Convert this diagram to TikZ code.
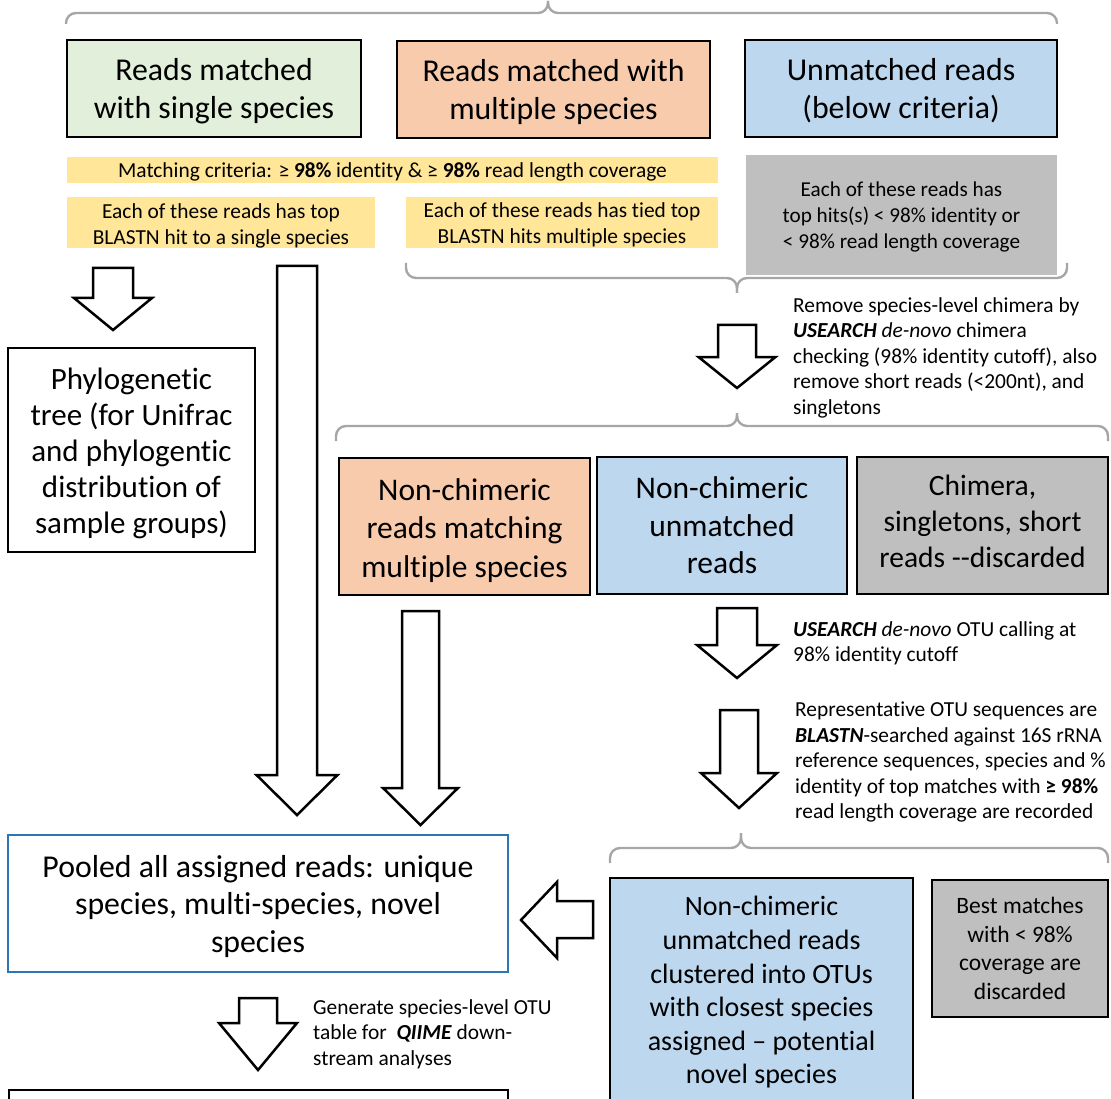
\documentclass[tikz,border=0pt]{standalone}
\usepackage{fontspec}
\setmainfont{Carlito}[Ligatures={TeX,NoCommon}]
\definecolor{cgreen}{HTML}{E2EFDA}
\definecolor{corange}{HTML}{F8CBAD}
\definecolor{cblue}{HTML}{BDD7EE}
\definecolor{cyellow}{HTML}{FFE699}
\definecolor{cgray}{HTML}{BFBFBF}
\definecolor{cbrace}{HTML}{A6A6A6}
\definecolor{cpool}{HTML}{2E75B6}
\newcommand\fl{\rule{0pt}{17pt}}
\newcommand\bi[1]{\textbf{\textit{#1}}}
\newcommand\blkdown[6]{\draw[blk] (#1-#2,#3) -- (#1+#2,#3) -- (#1+#2,#4) -- (#1+#5,#4) -- (#1,#6) -- (#1-#5,#4) -- (#1-#2,#4) -- cycle;}
\begin{document}
\begin{tikzpicture}[x=1pt,y=-1pt,
  box/.style={draw=black,line width=2.2pt,inner sep=0pt},
  area/.style={inner sep=0pt},
  big/.style={align=center,inner sep=0pt,font=\fontsize{31.8}{38}\selectfont},
  band/.style={align=center,inner sep=0pt,font=\fontsize{21.4}{25.5}\selectfont},
  smalltxt/.style={align=left,inner sep=0pt,anchor=north west,font=\fontsize{21.4}{25.5}\selectfont},
  brace/.style={draw=cbrace,line width=2.4pt,rounded corners=10pt},
  blk/.style={draw=black,fill=white,line width=2.5pt,line join=miter}]
\useasboundingbox (0,0) rectangle (1111,1099);
\clip (0,0) rectangle (1111,1099);

% braces
\draw[brace] (66,24) |- (548,13) -- (548,1);
\draw[brace] (1057,24) |- (548,13) -- (548,1);
\draw[brace] (406,263) |- (737,278) -- (737,293);
\draw[brace] (1067,263) |- (737,278) -- (737,293);
\draw[brace] (336,441) |- (737,426) -- (737,413);
\draw[brace] (1108,441) |- (737,426) -- (737,413);
\draw[brace] (610,863) |- (741,848) -- (741,833);
\draw[brace] (1108,863) |- (741,848) -- (741,833);

% top row
\node[box,fill=cgreen,minimum width=294pt,minimum height=97pt] (b1) at (214,88.5) {};
\node[big] (b1t) at (214,91.5) {Reads matched\\with single species};
\node[box,fill=corange,minimum width=313pt,minimum height=97pt] (b2) at (553.5,89.5) {};
\node[big] (b2t) at (553.5,92.5) {Reads matched with\\multiple species};
\node[box,fill=cblue,minimum width=312pt,minimum height=97pt] (b3) at (901,88.5) {};
\node[big] (b3t) at (901,91) {Unmatched reads\\(below criteria)};

% criteria
\node[area,fill=cyellow,minimum width=651pt,minimum height=26pt] (crit) at (392.5,170) {};
\node[band] (critt) at (392.5,172) {Matching criteria: ≥ \textbf{98\%} identity \& ≥ \textbf{98\%} read length coverage};
\node[area,fill=cyellow,minimum width=308pt,minimum height=51pt] (y1) at (221,222.5) {};
\node[band] (y1t) at (221,226) {Each of these reads has top\\BLASTN hit to a single species};
\node[area,fill=cyellow,minimum width=312pt,minimum height=51pt] (y2) at (562,222.5) {};
\node[band] (y2t) at (562,225) {Each of these reads has tied top\\BLASTN hits multiple species};
\node[area,fill=cgray,minimum width=311pt,minimum height=120pt] (g1) at (901.5,215) {};
\node[band,font=\fontsize{21.2}{26}\selectfont] (g1t) at (901.5,217) {Each of these reads has\\top hits(s) < 98\% identity or\\< 98\% read length coverage};

% phylogenetic tree
\node[box,line width=2pt,fill=white,minimum width=247pt,minimum height=204pt] (phy) at (131.5,449.5) {};
\node[big,font=\fontsize{31}{36}\selectfont] (phyt) at (131.5,453.5) {Phylogenetic\\tree (for Unifrac\\and phylogentic\\distribution of\\sample groups)};

% second row
\node[box,fill=corange,minimum width=251pt,minimum height=137pt] (nc1) at (464.5,526.5) {};
\node[big,font=\fontsize{31.5}{38.5}\selectfont] (nc1t) at (464.5,530.5) {Non-chimeric\\reads matching\\multiple species};
\node[box,fill=cblue,minimum width=250pt,minimum height=137pt] (nc2) at (722,525.5) {};
\node[big,font=\fontsize{31.5}{37.5}\selectfont] (nc2t) at (722,525.5) {Non-chimeric\\unmatched\\reads};
\node[box,fill=cgray,minimum width=251pt,minimum height=137pt] (chim) at (982.5,525.5) {};
\node[big,font=\fontsize{29.5}{36}\selectfont] (chimt) at (982.5,521) {Chimera,\\singletons, short\\reads -{}-discarded};

% pooled
\node[box,draw=cpool,line width=2pt,fill=white,minimum width=500pt,minimum height=137pt] (pool) at (258,903.5) {};
\node[big,font=\fontsize{31.8}{37.5}\selectfont] (poolt) at (258,906.5) {Pooled all assigned reads: unique\\species, multi-species, novel\\species};

% bottom right
\node[box,fill=cblue,minimum width=303pt,minimum height=225pt] (nov) at (761.5,990.5) {};
\node[big,font=\fontsize{28}{33.6}\selectfont] (novt) at (761.5,992.5) {Non-chimeric\\unmatched reads\\clustered into OTUs\\with closest species\\assigned – potential\\novel species};
\node[box,fill=cgray,minimum width=176pt,minimum height=137pt] (best) at (1020,948.5) {};
\node[big,font=\fontsize{23.5}{28.7}\selectfont] (bestt) at (1020,948.5) {Best matches\\with < 98\%\\coverage are\\discarded};

% bottom box (cut off)
\node[box,line width=2pt,fill=white,minimum width=499pt,minimum height=40pt] (final) at (258.5,1110) {};

% side texts
\node[smalltxt] (rm) at (793,295) {\fl Remove species-level chimera by\\\bi{USEARCH} \textit{de-novo} chimera\\checking (98\% identity cutoff), also\\remove short reads (<200nt), and\\singletons};
\node[smalltxt] (us) at (793,619) {\fl\bi{USEARCH} \textit{de-novo} OTU calling at\\98\% identity cutoff};
\node[smalltxt] (rep) at (795,699.5) {\fl Representative OTU sequences are\\\bi{BLASTN}-searched against 16S rRNA\\reference sequences, species and \%\\identity of top matches with \textbf{≥ 98\%}\\read length coverage are recorded};
\node[smalltxt] (gen) at (313,997) {\fl Generate species-level OTU\\table for \ \bi{QIIME} down-\\stream analyses};

% block arrows
\blkdown{113}{20}{268}{298}{39}{330}
\blkdown{297}{20}{266}{775}{40.5}{815}
\blkdown{420.5}{18.5}{611}{788}{37.5}{825}
\blkdown{737}{19}{325}{357}{38.5}{388}
\blkdown{737}{20}{608}{645}{40}{678}
\blkdown{739}{19}{710}{773}{38}{808}
\blkdown{258}{19}{998}{1023}{39}{1070}
\draw[blk] (593,901) -- (557,901) -- (557,882) -- (521,920) -- (557,958) -- (557,938) -- (593,938) -- cycle;
\end{tikzpicture}
\end{document}
